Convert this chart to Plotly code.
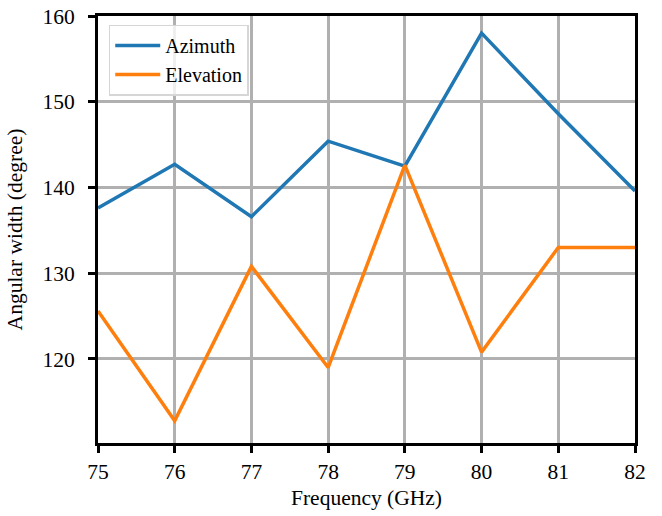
import plotly.graph_objects as go

# Measured angular width versus frequency
frequency_ghz = [75, 76, 77, 78, 79, 80, 81, 82]
azimuth_deg = [137.6, 142.7, 136.6, 145.4, 142.5, 158.0, 148.6, 139.6]
elevation_deg = [125.6, 112.8, 130.8, 119.0, 142.6, 120.8, 133.0, 133.0]

font_family = "Liberation Serif, Times New Roman, serif"
font_size = 21.5

fig = go.Figure()
fig.add_trace(go.Scatter(
    x=frequency_ghz, y=azimuth_deg, mode="lines", name="Azimuth",
    line=dict(color="#1f77b4", width=3.5),
))
fig.add_trace(go.Scatter(
    x=frequency_ghz, y=elevation_deg, mode="lines", name="Elevation",
    line=dict(color="#ff7f0e", width=3.5),
))

axis_common = dict(
    showline=True, linecolor="black", linewidth=3, mirror=True,
    showgrid=True, gridcolor="#b0b0b0", gridwidth=2.5,
    ticks="outside", ticklen=7, tickwidth=3, tickcolor="black",
    zeroline=False, automargin=False,
    tickfont=dict(family=font_family, size=font_size, color="black"),
)

fig.update_xaxes(
    range=[75, 82], dtick=1, ticklabelstandoff=0,
    title=dict(text="Frequency (GHz)", font=dict(family=font_family, size=font_size, color="black"), standoff=8),
    **axis_common,
)
fig.update_yaxes(
    range=[110.2, 160], tickvals=[120, 130, 140, 150, 160], ticklabelstandoff=9,
    title=dict(text="Angular width (degree)", font=dict(family=font_family, size=font_size, color="black"), standoff=14),
    **axis_common,
)

fig.update_layout(
    width=662, height=516,
    margin=dict(l=98, r=27, t=16, b=73),
    paper_bgcolor="white", plot_bgcolor="white",
    font=dict(family=font_family, size=font_size, color="black"),
    legend=dict(
        x=0.02, y=0.98, xanchor="left", yanchor="top",
        bgcolor="rgba(255,255,255,0.8)", bordercolor="#d6d6d6", borderwidth=1.5,
        font=dict(family=font_family, size=20, color="black"),
        itemwidth=45,
    ),
    showlegend=True,
)

fig.write_html("out.html")
